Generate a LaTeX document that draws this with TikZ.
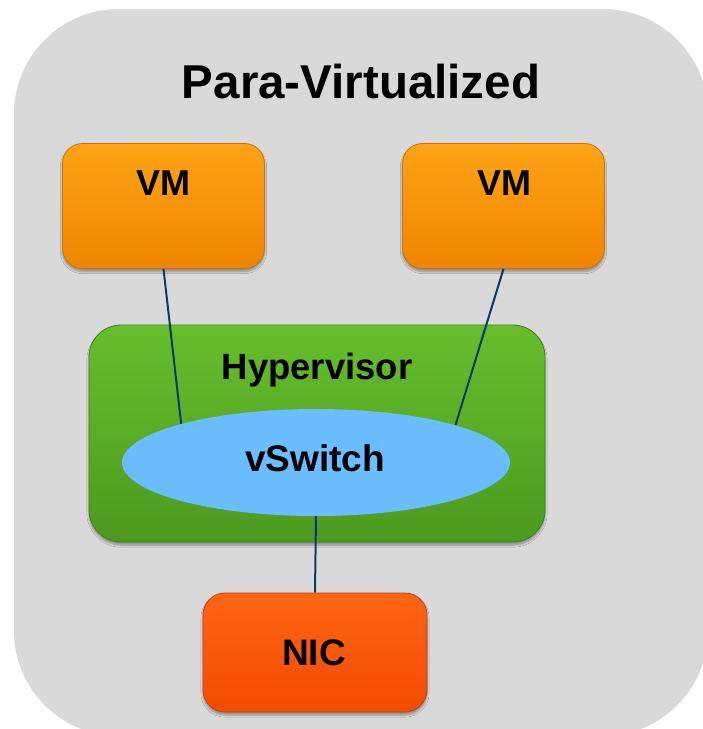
\documentclass[tikz,border=0pt]{standalone}
\usepackage{fontspec}
\setmainfont{Liberation Sans}
\usetikzlibrary{shapes.geometric,shadows.blur}

\definecolor{panel}{HTML}{D9D9D9}
\definecolor{vmtop}{HTML}{FFA314}
\definecolor{vmbot}{HTML}{EE8500}
\definecolor{vmedge}{HTML}{C8740A}
\definecolor{hvtop}{HTML}{66BE2C}
\definecolor{hvbot}{HTML}{4C9A1F}
\definecolor{hvedge}{HTML}{3F8019}
\definecolor{nictop}{HTML}{FF6414}
\definecolor{nicbot}{HTML}{F24C00}
\definecolor{nicedge}{HTML}{C04010}
\definecolor{swfill}{HTML}{6ABEFF}
\definecolor{wire}{HTML}{0B3A6A}

\tikzset{
  boxshadow/.style={blur shadow={shadow xshift=0pt, shadow yshift=-3pt,
      shadow blur steps=6, shadow opacity=35}},
  vmbox/.style={rectangle, rounded corners=20pt, minimum width=202pt,
      minimum height=125pt, top color=vmtop, bottom color=vmbot,
      draw=vmedge, line width=0.8pt, boxshadow},
  hvbox/.style={rectangle, rounded corners=32pt, minimum width=456pt,
      minimum height=217pt, top color=hvtop, bottom color=hvbot,
      draw=hvedge, line width=0.8pt, boxshadow},
  nicbox/.style={rectangle, rounded corners=22pt, minimum width=224pt,
      minimum height=119pt, top color=nictop, bottom color=nicbot,
      draw=nicedge, line width=0.8pt, boxshadow},
  swell/.style={ellipse, minimum width=388pt, minimum height=107pt,
      fill=swfill, inner sep=0pt},
  lbl/.style={font=\bfseries\fontsize{36}{40}\selectfont, inner sep=0pt},
  wireline/.style={draw=wire, line width=2pt},
}

\begin{document}
\begin{tikzpicture}[x=1pt, y=-1pt]
  \useasboundingbox (0,0) rectangle (703,729);
  \clip (0,0) rectangle (703,729);

  % grey panel behind everything
  \fill[panel, rounded corners=105pt] (14,9) rectangle (708,736);

  \node[font=\bfseries\fontsize{47.5}{52}\selectfont, inner sep=0pt] (title) at (361,82) {Para-Virtualized};

  % virtual machines
  \node[vmbox] (vm1) at (163.5,206) {};
  \node[vmbox] (vm2) at (503.5,206) {};
  \node[lbl] (vm1t) at (163,183) {VM};
  \node[lbl] (vm2t) at (504,183) {VM};

  % hypervisor with the virtual switch
  \node[hvbox] (hv) at (317,433.5) {};
  \node[lbl, font=\bfseries\fontsize{36.5}{40}\selectfont] (hvt) at (317,370) {Hypervisor};
  \node[swell] (vs) at (316,462.5) {};
  \node[lbl, font=\bfseries\fontsize{37}{40}\selectfont] (vst) at (315,458) {vSwitch};

  % physical NIC
  \node[nicbox] (nic) at (315,652.5) {};
  \node[lbl, font=\bfseries\fontsize{37}{40}\selectfont] (nict) at (314,653) {NIC};

  % links
  \draw[wireline] (vm1.south) -- (vs.164.5);
  \draw[wireline] (vm2.south) -- (vs.15.5);
  \draw[wireline] (vs.south) -- (nic.north);
\end{tikzpicture}
\end{document}
